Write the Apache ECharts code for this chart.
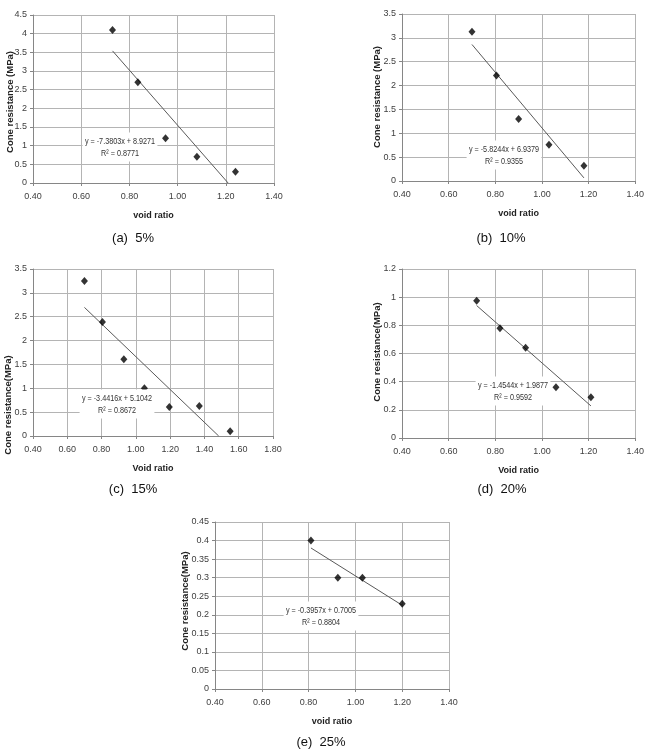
<!DOCTYPE html>
<html>
<head>
<meta charset="utf-8">
<script src="https://cdn.jsdelivr.net/npm/echarts@6/dist/echarts.min.js"></script>
<style>
  html, body { margin: 0; padding: 0; background: #fff; }
  #main { width: 647px; height: 755px; }
</style>
</head>
<body>
<div id="main"></div>
<script>
// (a) 5%
var voidA = [0.73, 0.835, 0.95, 1.08, 1.24];
var coneA = [4.1, 2.7, 1.2, 0.7, 0.3];
// (b) 10%
var voidB = [0.70, 0.805, 0.90, 1.03, 1.18];
var coneB = [3.13, 2.21, 1.30, 0.76, 0.32];
// (c) 15%
var voidC = [0.70, 0.805, 0.93, 1.05, 1.195, 1.37, 1.55];
var coneC = [3.25, 2.39, 1.61, 1.0, 0.61, 0.63, 0.10];
// (d) 20%
var voidD = [0.72, 0.82, 0.93, 1.06, 1.21];
var coneD = [0.975, 0.78, 0.64, 0.36, 0.29];
// (e) 25%
var voidE = [0.81, 0.925, 1.03, 1.20];
var coneE = [0.40, 0.30, 0.30, 0.23];

// 线性趋势线 y = slope * x + intercept
var slopes = [-7.3803, -5.8244, -3.4416, -1.4544, -0.3957];
var intercepts = [8.9271, 6.9379, 5.1042, 1.9877, 0.7005];
var r2Values = ['0.8771', '0.9355', '0.8672', '0.9592', '0.8804'];
var trendFrom = [0.73, 0.70, 0.70, 0.72, 0.81];
var trendTo = [1.2096, 1.18, 1.4831, 1.21, 1.20];

// 轴范围
var xMax = [1.4, 1.4, 1.8, 1.4, 1.4];
var yMax = [4.5, 3.5, 3.5, 1.2, 0.45];
var yStep = [0.5, 0.5, 0.5, 0.2, 0.05];

var captions = ['(a)  5%', '(b)  10%', '(c)  15%', '(d)  20%', '(e)  25%'];
var xNames = ['void ratio', 'void ratio', 'Void ratio', 'Void ratio', 'void ratio'];
var yNames = ['Cone resistance (MPa)', 'Cone resistance (MPa)', 'Cone resistance(MPa)',
              'Cone resistance(MPa)', 'Cone resistance(MPa)'];

var voidList = [voidA, voidB, voidC, voidD, voidE];
var coneList = [coneA, coneB, coneC, coneD, coneE];

// layout
var grids = [
    {left: 33, top: 15, width: 241, height: 168},
    {left: 402, top: 14, width: 240, height: 167},
    {left: 33, top: 269, width: 240, height: 167},
    {left: 402, top: 269, width: 240, height: 169},
    {left: 215, top: 522, width: 234, height: 167}
];
var eqPos = [[120, 147], [504, 155], [117, 404], [513, 391], [321, 616]];
var yTitlePos = [[10, 102], [377, 97], [8, 405], [377, 352], [185, 601]];
var capPos = [[133, 238], [501, 238], [133, 489], [502, 489], [321, 742]];

var numFont = "'Liberation Sans', Arial, sans-serif";

function fmtY(v) {
    return String(parseFloat(v.toFixed(2)));
}

var xAxes = [], yAxes = [], series = [], graphics = [];
for (var i = 0; i < 5; i++) {
    xAxes.push({
        gridIndex: i, type: 'value', min: 0.4, max: xMax[i], interval: 0.2,
        name: xNames[i], nameLocation: 'middle', nameGap: 28,
        nameTextStyle: {fontFamily: numFont, fontWeight: 'bold', fontSize: 9, color: '#222'},
        axisLine: {show: true, onZero: false, lineStyle: {color: '#868686', width: 1}},
        axisTick: {show: true, length: 3, lineStyle: {color: '#868686'}},
        axisLabel: {margin: 9, fontFamily: numFont, fontSize: 9, color: '#404040',
            formatter: function (v) { return v.toFixed(2); }},
        splitLine: {show: true, lineStyle: {color: '#b4b4b4', width: 1}}
    });
    yAxes.push({
        gridIndex: i, type: 'value', min: 0, max: yMax[i], interval: yStep[i],
        axisLine: {show: true, lineStyle: {color: '#868686', width: 1}},
        axisTick: {show: true, length: 3, lineStyle: {color: '#868686'}},
        axisLabel: {margin: 6, fontFamily: numFont, fontSize: 9, color: '#404040', formatter: fmtY},
        splitLine: {show: true, lineStyle: {color: '#b4b4b4', width: 1}}
    });

    var pts = [];
    for (var k = 0; k < voidList[i].length; k++) {
        pts.push([voidList[i][k], coneList[i][k]]);
    }
    series.push({
        type: 'scatter', xAxisIndex: i, yAxisIndex: i, data: pts,
        symbol: 'diamond', symbolSize: [7, 8],
        itemStyle: {color: '#000'}, z: 3
    });
    series.push({
        type: 'line', xAxisIndex: i, yAxisIndex: i, symbol: 'none',
        data: [
            [trendFrom[i], slopes[i] * trendFrom[i] + intercepts[i]],
            [trendTo[i], slopes[i] * trendTo[i] + intercepts[i]]
        ],
        lineStyle: {color: '#595959', width: 1}, z: 2
    });

    // 回归方程
    var sign = intercepts[i] >= 0 ? ' + ' : ' - ';
    graphics.push({
        type: 'text', x: eqPos[i][0], y: eqPos[i][1], z: 100, scaleX: 0.76,
        style: {
            text: 'y = ' + slopes[i].toFixed(4) + 'x' + sign + Math.abs(intercepts[i]).toFixed(4) +
                  '\nR² = ' + r2Values[i],
            align: 'center', verticalAlign: 'middle',
            font: '9.5px ' + numFont, fill: '#333', lineHeight: 12,
            backgroundColor: '#fff', padding: [4, 3, 1, 3]
        }
    });
    // y 轴标题
    graphics.push({
        type: 'text', x: yTitlePos[i][0], y: yTitlePos[i][1], rotation: Math.PI / 2, z: 100,
        style: {
            text: yNames[i], align: 'center', verticalAlign: 'middle',
            font: 'bold 9.5px ' + numFont, fill: '#222'
        }
    });
    // 图注
    graphics.push({
        type: 'text', x: capPos[i][0], y: capPos[i][1], z: 100,
        style: {
            text: captions[i], align: 'center', verticalAlign: 'middle',
            font: '13px "Liberation Sans", Arial, sans-serif', fill: '#111'
        }
    });
}

var myChart = echarts.init(document.getElementById('main'));
myChart.setOption({
    animation: false,
    backgroundColor: '#fff',
    grid: grids,
    xAxis: xAxes,
    yAxis: yAxes,
    series: series,
    graphic: graphics
});
</script>
</body>
</html>
